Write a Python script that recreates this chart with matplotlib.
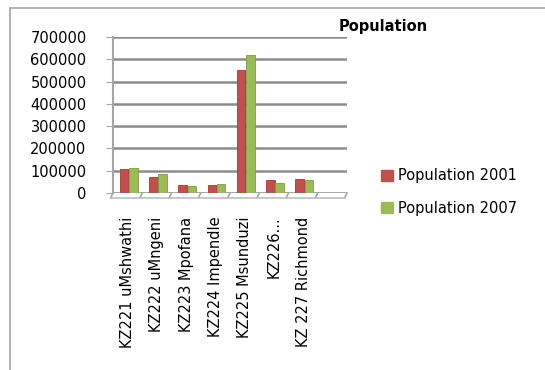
import matplotlib
matplotlib.use("Agg")
import matplotlib.pyplot as plt
from matplotlib.patches import Rectangle
from matplotlib.lines import Line2D
import numpy as np

categories = ["KZ221 uMshwathi", "KZ222 uMngeni", "KZ223 Mpofana", "KZ224 Impendle",
              "KZ225 Msunduzi", "KZ226...", "KZ 227 Richmond", ""]
pop2001 = [108000, 74000, 37000, 34000, 553000, 59000, 63000, 0]
pop2007 = [113000, 85000, 32000, 39000, 617000, 47000, 58000, 0]
yticks = [0, 100000, 200000, 300000, 400000, 500000, 600000, 700000]

RED = "#C0504D"
GREEN = "#9BBB59"
GRID = "#8C8C8C"
FS = 10.5

fig = plt.figure(figsize=(5.45, 3.7), dpi=100)
W, H = 545, 370

# chart frame (top and left edges visible)
fig.add_artist(Line2D([10 / W, 1.0], [1 - 8 / H, 1 - 8 / H], transform=fig.transFigure,
                      color="#A6A6A6", linewidth=1.2))
fig.add_artist(Line2D([10 / W, 10 / W], [0, 1 - 8 / H], transform=fig.transFigure,
                      color="#A6A6A6", linewidth=1.2))

ax = fig.add_axes([113 / W, 1 - 193 / H, (347 - 113) / W, (193 - 37) / H])
ax.set_xlim(-0.5, 7.5)
ax.set_ylim(0, 700000)

x = np.arange(len(categories))
bw = 0.29
ax.bar(x - 0.12, pop2001, bw, color=RED, edgecolor="#9E3B38", linewidth=0.6, zorder=3,
       label="Population 2001")
ax.bar(x + 0.20, pop2007, bw, color=GREEN, edgecolor="#7F9A45", linewidth=0.6, zorder=3,
       label="Population 2007")

for v in yticks:
    ax.axhline(v, color=GRID, linewidth=1.8, zorder=1)

for s in ["top", "right", "bottom"]:
    ax.spines[s].set_visible(False)
ax.spines["left"].set_color("#A6A6A6")
ax.spines["left"].set_linewidth(1.5)

ax.set_yticks(yticks)
ax.set_yticklabels([str(v) for v in yticks], fontsize=FS)
ax.tick_params(axis="y", length=5, color="#A6A6A6", pad=14)

ax.set_xticks(x)
ax.set_xticklabels(categories, rotation=90, fontsize=FS, va="top", ha="center")
ax.tick_params(axis="x", length=0, pad=17)

# floor: front edge and category separator ticks
for b in np.arange(-0.5, 8.0, 1.0):
    ax.plot([b, b - 0.08], [0, -22000], color="#A6A6A6", linewidth=1.2, clip_on=False)
ax.plot([-0.5 - 0.08, 7.5 - 0.08], [-22000, -22000], color="#BFBFBF", linewidth=1.2, clip_on=False)

fig.text(383 / W, 1 - 26 / H, "Population", fontsize=FS, fontweight="bold",
         ha="center", va="center")

handles = [Rectangle((0, 0), 1, 1, color=RED), Rectangle((0, 0), 1, 1, color=GREEN)]
fig.legend(handles, ["Population 2001", "Population 2007"], loc="center left",
           bbox_to_anchor=(368 / W, 1 - 192 / H), frameon=False, fontsize=FS,
           handlelength=0.8, handleheight=0.8, handletextpad=0.35, labelspacing=1.2)

fig.savefig("out.png", dpi=100)
